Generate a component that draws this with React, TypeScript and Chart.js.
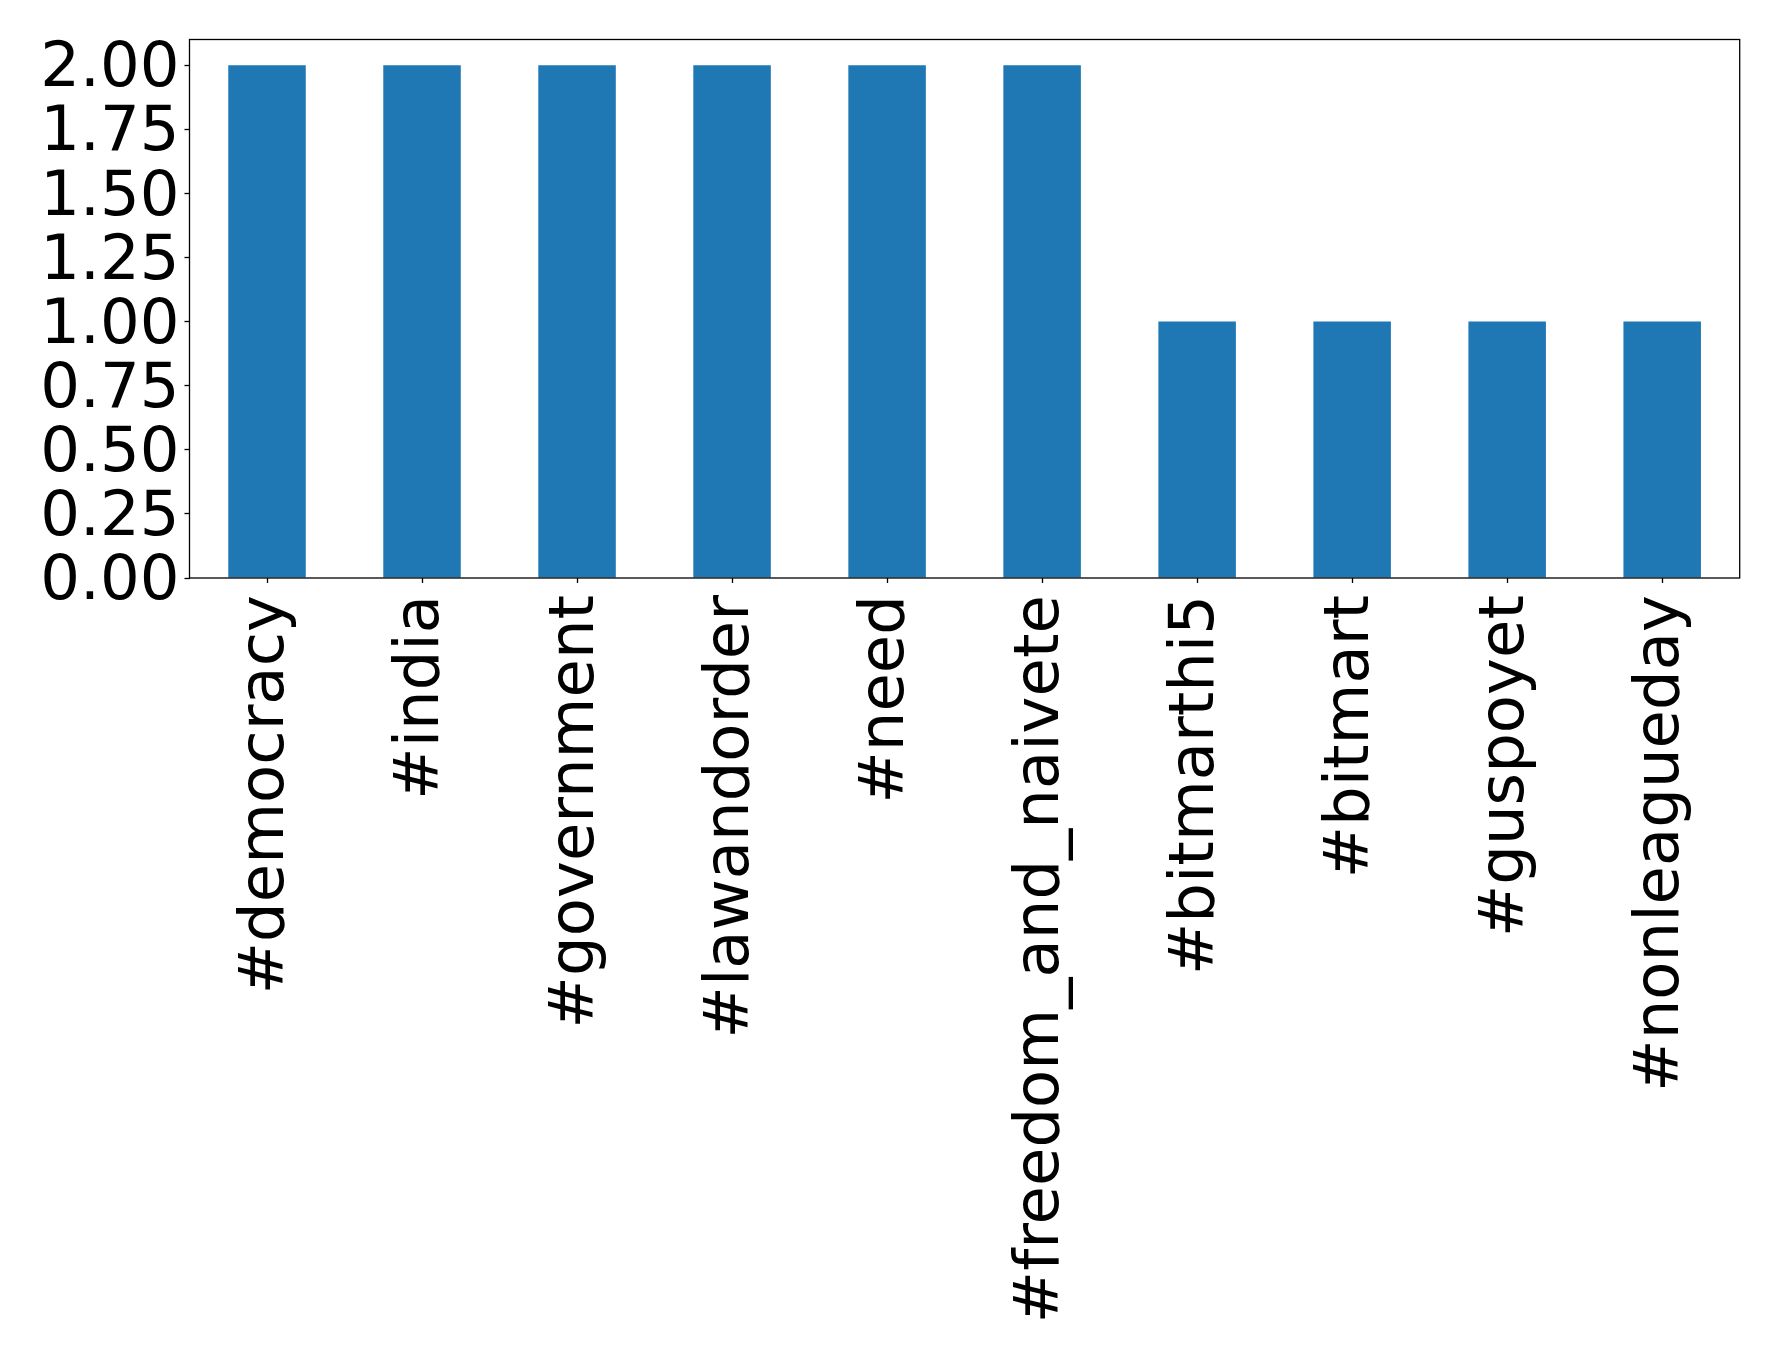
import React, { useEffect, useRef } from "react";
import { Chart, registerables } from "chart.js";

Chart.register(...registerables);

const categories: string[] = [
  "#democracy",
  "#india",
  "#government",
  "#lawandorder",
  "#need",
  "#freedom_and_naivete",
  "#bitmarthi5",
  "#bitmart",
  "#guspoyet",
  "#nonleagueday",
];
const counts: number[] = [2, 2, 2, 2, 2, 2, 1, 1, 1, 1];
const yTickValues: number[] = [0, 0.25, 0.5, 0.75, 1.0, 1.25, 1.5, 1.75, 2.0];

const W = 1778;
const H = 1356;
const PLOT_LEFT = 189.5;
const PLOT_RIGHT = 1739.7;
const PLOT_TOP = 39.5;
const PLOT_BOTTOM = 578;
const FONT = "'DejaVu Sans', sans-serif";
const FONT_SIZE = 62.5;

const framePlugin = {
  id: "frame",
  afterDraw(chart: any) {
    const { ctx, chartArea } = chart;
    ctx.save();
    ctx.strokeStyle = "#000";
    ctx.lineWidth = 1.3;
    ctx.strokeRect(
      chartArea.left,
      chartArea.top,
      chartArea.right - chartArea.left,
      chartArea.bottom - chartArea.top
    );
    ctx.restore();
  },
};

export default function App() {
  const ref = useRef<HTMLCanvasElement | null>(null);
  useEffect(() => {
    if (!ref.current) return;
    const chart = new Chart(ref.current, {
      type: "bar",
      data: {
        labels: categories,
        datasets: [
          {
            data: counts,
            backgroundColor: "#1f77b4",
            borderWidth: 0,
            categoryPercentage: 1.0,
            barPercentage: 0.5,
          },
        ],
      },
      options: {
        animation: false,
        responsive: false,
        maintainAspectRatio: false,
        devicePixelRatio: 1,
        layout: {
          padding: {
            left: 0,
            top: PLOT_TOP,
            right: W - PLOT_RIGHT,
            bottom: 0,
          },
        },
        plugins: {
          legend: { display: false },
          tooltip: { enabled: false },
          title: { display: false },
        },
        scales: {
          x: {
            type: "category",
            offset: true,
            border: { display: false },
            grid: {
              display: true,
              drawOnChartArea: false,
              drawTicks: true,
              tickLength: 5,
              tickWidth: 1.3,
              tickColor: "#000",
              offset: false,
            },
            ticks: {
              autoSkip: false,
              maxRotation: 90,
              minRotation: 90,
              padding: 12,
              color: "#000",
              font: { family: FONT, size: FONT_SIZE },
            },
            afterFit(scale: any) {
              scale.height = H - PLOT_BOTTOM;
              scale.paddingLeft = 0;
              scale.paddingRight = 0;
            },
          },
          y: {
            type: "linear",
            min: 0,
            max: 2.1,
            border: { display: false },
            grid: {
              display: true,
              drawOnChartArea: false,
              drawTicks: true,
              tickLength: 5,
              tickWidth: 1.3,
              tickColor: "#000",
            },
            ticks: {
              autoSkip: false,
              padding: 5,
              labelOffset: 5,
              color: "#000",
              font: { family: FONT, size: FONT_SIZE },
              callback: (v: any) => Number(v).toFixed(2),
            },
            afterBuildTicks(scale: any) {
              scale.ticks = yTickValues.map((v) => ({ value: v }));
            },
            afterFit(scale: any) {
              scale.width = PLOT_LEFT;
              scale.paddingTop = 0;
              scale.paddingBottom = 0;
            },
          },
        },
      },
      plugins: [framePlugin],
    });
    return () => chart.destroy();
  }, []);

  return (
    <div style={{ position: "absolute", left: 0, top: 0, width: W, height: H, background: "#fff" }}>
      <canvas ref={ref} width={W} height={H} style={{ width: W, height: H, display: "block" }} />
    </div>
  );
}
